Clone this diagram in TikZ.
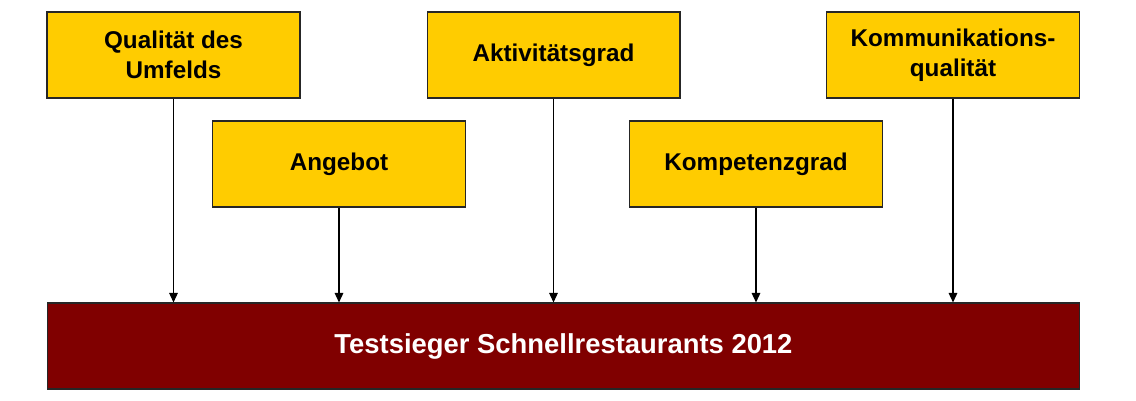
\documentclass[tikz,border=0pt]{standalone}
\usepackage{fontspec}
\setmainfont{Liberation Sans}
\usetikzlibrary{arrows.meta}
\definecolor{gelb}{HTML}{FFCC00}
\definecolor{dunkelrot}{HTML}{800000}
\begin{document}
\begin{tikzpicture}[x=0.02cm,y=-0.02cm,
    kasten/.style={draw=black!85,line width=0.6pt,fill=gelb,minimum width=5.06cm,minimum height=1.72cm,
      inner sep=0pt,align=center,font=\fontsize{13.8}{17}\selectfont\bfseries},
    pfeil/.style={line width=0.8pt,-{Triangle[length=0.19cm,width=0.17cm]}}]
    \useasboundingbox (0,0) rectangle (1136,400);
    % Kriterien:  1 Umfeld, 2 Angebot, 3 Aktivitaet, 4 Kompetenz, 5 Kommunikation
    \foreach \k/\t [count=\i from 1] in {(173.5,55)/{Qualität des\\Umfelds},(339,164)/Angebot,(553.5,55)/Aktivitätsgrad,(756,164)/Kompetenzgrad,(953,55)/{Kommunikations-\\qualität}}
      {\node[kasten] (k\i) at \k {\t};}
    \node[draw=black!85,line width=0.6pt,fill=dunkelrot,text=white,minimum width=20.66cm,minimum height=1.72cm,
      font=\fontsize{15.6}{19}\selectfont\bfseries] (ziel) at (563.5,346) {Testsieger Schnellrestaurants 2012};
    \foreach \i in {1,...,5} {\draw[pfeil] (k\i.south)--(k\i.south |- ziel.north);}
  \end{tikzpicture}
\end{document}
